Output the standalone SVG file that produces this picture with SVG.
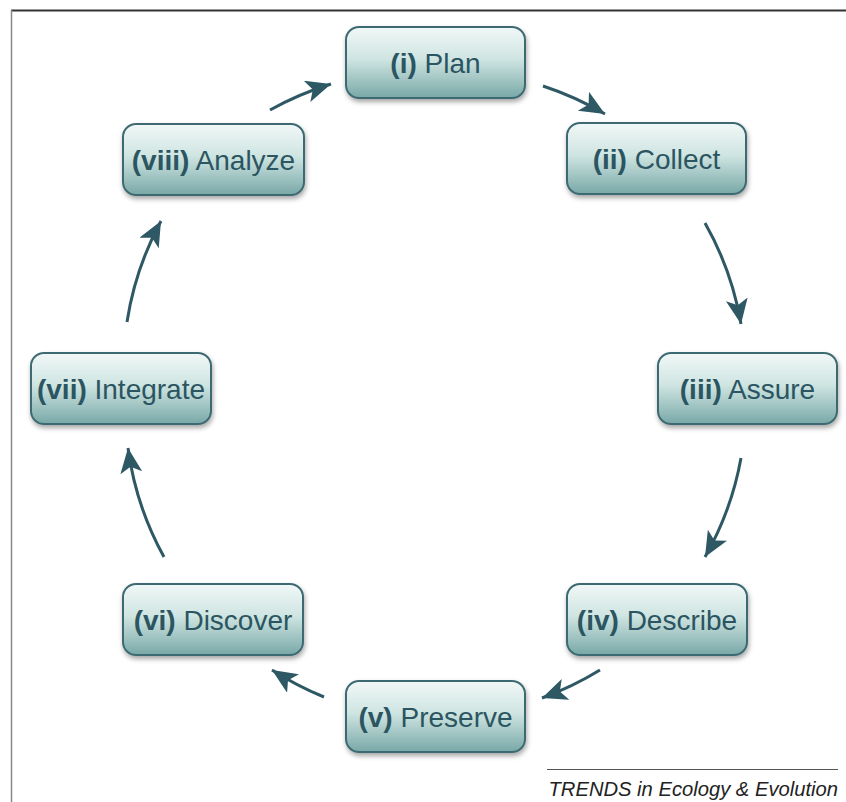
<svg xmlns="http://www.w3.org/2000/svg" width="846" height="802" viewBox="0 0 846 802">
<defs>
<linearGradient id="g" x1="0" y1="0" x2="0" y2="1">
<stop offset="0" stop-color="#f1f8f7"/>
<stop offset="0.45" stop-color="#cfe5e2"/>
<stop offset="1" stop-color="#78a8a7"/>
</linearGradient>
<filter id="sh" x="-10%" y="-10%" width="125%" height="135%">
<feDropShadow dx="1" dy="3" stdDeviation="2.5" flood-color="#000" flood-opacity="0.35"/>
</filter>
<marker id="ah" markerUnits="userSpaceOnUse" markerWidth="30" markerHeight="24" refX="25" refY="11" orient="auto">
<path d="M0,0 L25,11 L0,22 L6,11 Z" fill="#2d5864"/>
</marker>
<style>
.box{fill:url(#g);stroke:#3e6b72;stroke-width:2;filter:url(#sh)}
.lbl{font-family:"Liberation Sans",Arial,sans-serif;font-size:28px;fill:#2b5561;text-anchor:middle}
.b{font-weight:bold}
.arr{fill:none;stroke:#2d5864;stroke-width:3;marker-end:url(#ah)}
</style>
</defs>
<rect width="846" height="802" fill="#fff"/>
<line x1="11" y1="10.5" x2="846" y2="10.5" stroke="#333" stroke-width="2"/>
<line x1="11.5" y1="10" x2="11.5" y2="802" stroke="#888" stroke-width="1.5"/>

<g id="connectors">
<path class="arr" d="M543,86 A320,320 0 0 1 605,114"/>
<path class="arr" d="M705,223 A310,310 0 0 1 741,324"/>
<path class="arr" d="M741,458 A310,310 0 0 1 705,557"/>
<path class="arr" d="M600,670 A320,320 0 0 1 542,698"/>
<path class="arr" d="M324,697 A320,320 0 0 1 272,670"/>
<path class="arr" d="M164,557 A310,310 0 0 1 128,448"/>
<path class="arr" d="M127,322 A310,310 0 0 1 161,221"/>
<path class="arr" d="M270,110 A320,320 0 0 1 331,84"/>
</g>

<g id="n1"><rect class="box" x="346" y="27" width="179" height="71" rx="13"/><text class="lbl" x="435.5" y="73"><tspan class="b">(i)</tspan> Plan</text></g>
<g id="n2"><rect class="box" x="567" y="123" width="179" height="71" rx="13"/><text class="lbl" x="656.5" y="169"><tspan class="b">(ii)</tspan> Collect</text></g>
<g id="n3"><rect class="box" x="658" y="353" width="179" height="71" rx="13"/><text class="lbl" x="747.5" y="399"><tspan class="b">(iii)</tspan> Assure</text></g>
<g id="n4"><rect class="box" x="567" y="584" width="180" height="71" rx="13"/><text class="lbl" x="657" y="630"><tspan class="b">(iv)</tspan> Describe</text></g>
<g id="n5"><rect class="box" x="346" y="681" width="179" height="71" rx="13"/><text class="lbl" x="435.5" y="727"><tspan class="b">(v)</tspan> Preserve</text></g>
<g id="n6"><rect class="box" x="123" y="584" width="180" height="71" rx="13"/><text class="lbl" x="213" y="630"><tspan class="b">(vi)</tspan> Discover</text></g>
<g id="n7"><rect class="box" x="31" y="353" width="180" height="71" rx="13"/><text class="lbl" x="121" y="399"><tspan class="b">(vii)</tspan> Integrate</text></g>
<g id="n8"><rect class="box" x="123" y="124" width="181" height="71" rx="13"/><text class="lbl" x="213.5" y="170"><tspan class="b">(viii)</tspan> Analyze</text></g>

<line x1="547" y1="769.5" x2="838" y2="769.5" stroke="#555" stroke-width="1"/>
<text x="838" y="796" font-family="'Liberation Sans',Arial,sans-serif" font-size="20.2" font-style="italic" fill="#222" text-anchor="end">TRENDS in Ecology &amp; Evolution</text>
</svg>
